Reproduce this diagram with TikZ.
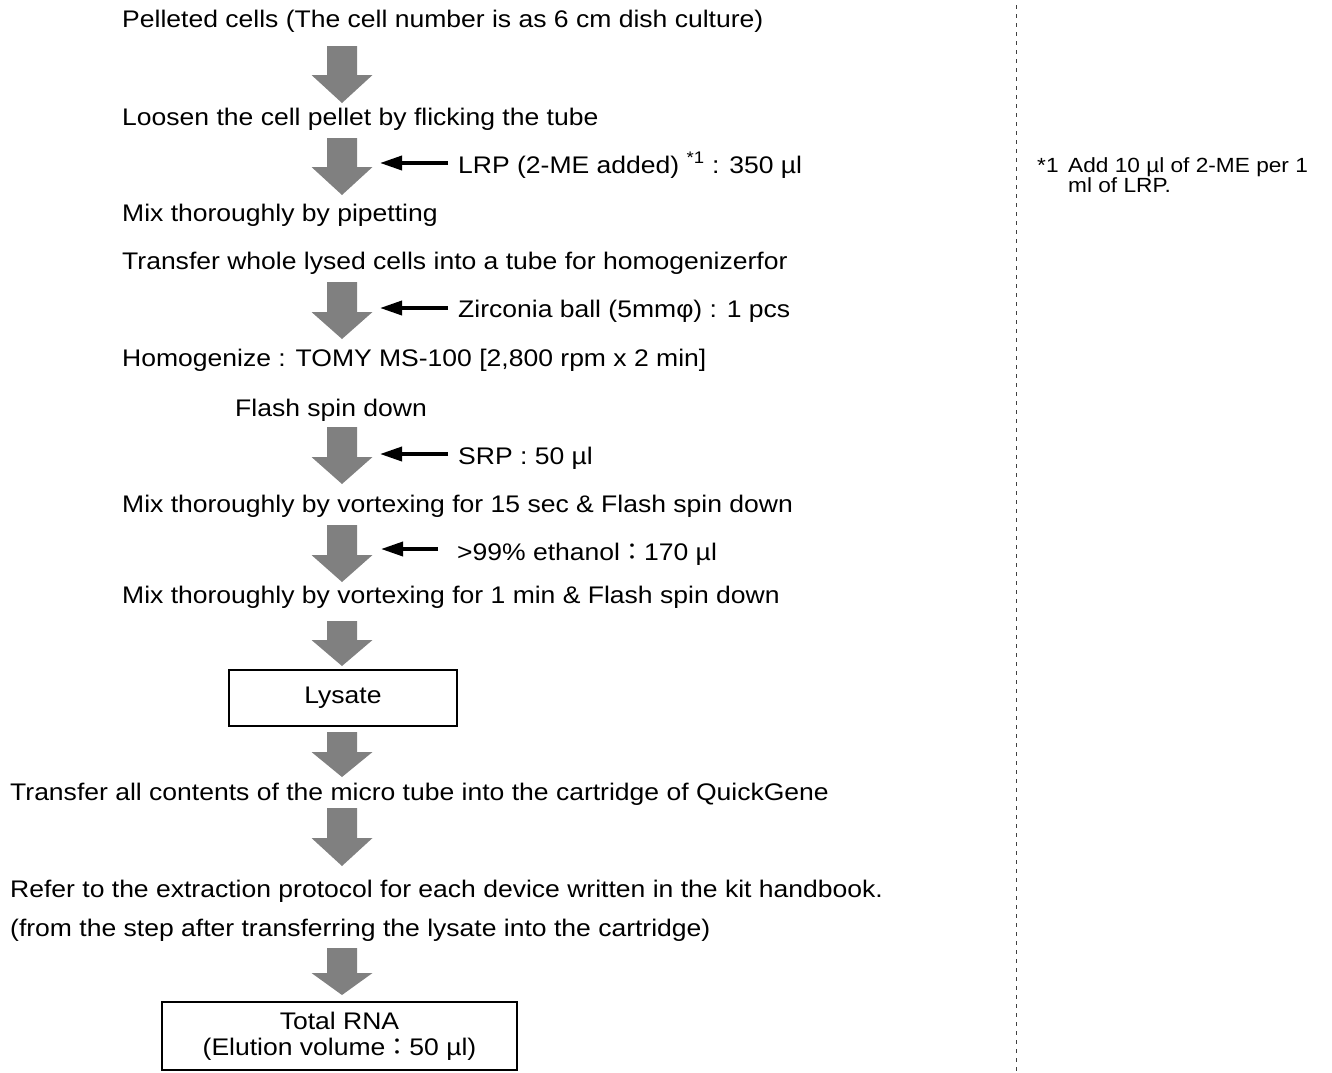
\documentclass[tikz,border=0pt]{standalone}
\usepackage{fontspec}
\setmainfont{Liberation Sans}[FakeStretch=1.105]
\newfontfamily\cjk{Noto Sans CJK JP}
\usetikzlibrary{arrows.meta}
\newcommand{\bigdown}[3]{%
  \fill[blockgray] (327,#1) -- (357,#1) -- (357,#2) -- (372.5,#2) -- (342,#3) -- (311.5,#2) -- (327,#2) -- cycle;}
\tikzset{
  steptext/.style={anchor=base west, inner sep=0pt, font=\fontsize{24}{28}\selectfont},
  addarrow/.style={-{Triangle[length=22pt,width=14pt]}, line width=3.6pt},
  resultbox/.style={draw, line width=1.3pt, inner sep=0pt, align=center, font=\fontsize{24}{26}\selectfont},
  notetext/.style={anchor=base west, inner sep=0pt, font=\fontsize{20.5}{18}\selectfont},
  blockgray/.style={fill=black!50}
}
\begin{document}
\begin{tikzpicture}[x=1pt,y=-1pt]
\useasboundingbox (0,0) rectangle (1332,1072);
% step texts
\node[steptext] (s1) at (122,27) {Pelleted cells (The cell number is as 6 cm dish culture)};
\node[steptext] (s2) at (122,125) {Loosen the cell pellet by flicking the tube};
\node[steptext] (a1) at (458,173) {LRP (2-ME added) \textsuperscript{*1} : 350 µl};
\node[steptext] (s3) at (122,221) {Mix thoroughly by pipetting};
\node[steptext] (s4) at (122,269) {Transfer whole lysed cells into a tube for homogenizerfor};
\node[steptext] (a2) at (458,317) {Zirconia ball (5mmφ) : 1 pcs};
\node[steptext] (s5) at (122,366) {Homogenize : TOMY MS-100 [2,800 rpm x 2 min]};
\node[steptext] (s6) at (235,416) {Flash spin down};
\node[steptext] (a3) at (458,464) {SRP : 50 µl};
\node[steptext] (s7) at (122,512) {Mix thoroughly by vortexing for 15 sec \& Flash spin down};
\node[steptext] (a4) at (457,560) {>99\% ethanol{\cjk ：}170 µl};
\node[steptext] (s8) at (122,603) {Mix thoroughly by vortexing for 1 min \& Flash spin down};
\node[resultbox, minimum width=228pt, minimum height=56pt] (lys) at (343,698) {Lysate};
\node[steptext] (s9) at (10,800) {Transfer all contents of the micro tube into the cartridge of QuickGene};
\node[steptext] (s10) at (10,897) {Refer to the extraction protocol for each device written in the kit handbook.};
\node[steptext] (s11) at (10,936) {(from the step after transferring the lysate into the cartridge)};
\node[resultbox, minimum width=355pt, minimum height=68pt] (rna) at (339.5,1036) {Total RNA\\(Elution volume{\cjk ：}50 µl)};
% gray block arrows
\bigdown{46}{75}{103}
\bigdown{138}{167}{195}
\bigdown{282}{312}{339}
\bigdown{427}{457}{484}
\bigdown{525}{555}{582}
\bigdown{621}{640}{666}
\bigdown{732}{752}{777}
\bigdown{808}{838}{866}
\bigdown{948}{973}{995}
% addition arrows
\coordinate (t1) at (448,163); \coordinate (h1) at (380,163);
\coordinate (t2) at (448,308); \coordinate (h2) at (380,308);
\coordinate (t3) at (448,454); \coordinate (h3) at (380,454);
\coordinate (t4) at (438,549); \coordinate (h4) at (381,549);
\draw[addarrow] (t1) -- (h1);
\draw[addarrow] (t2) -- (h2);
\draw[addarrow] (t3) -- (h3);
\draw[addarrow] (t4) -- (h4);
% divider
\coordinate (d1) at (1016,5); \coordinate (d2) at (1016,1072);
\draw[dash pattern=on 4pt off 5pt, line width=1pt, black!75] (d1) -- (d2);
% footnote
\node[notetext] (n0) at (1037,172) {*1};
\node[notetext] (n1) at (1068,172) {Add 10 µl of 2-ME per 1};
\node[notetext] (n2) at (1068,192) {ml of LRP.};
\end{tikzpicture}
\end{document}
